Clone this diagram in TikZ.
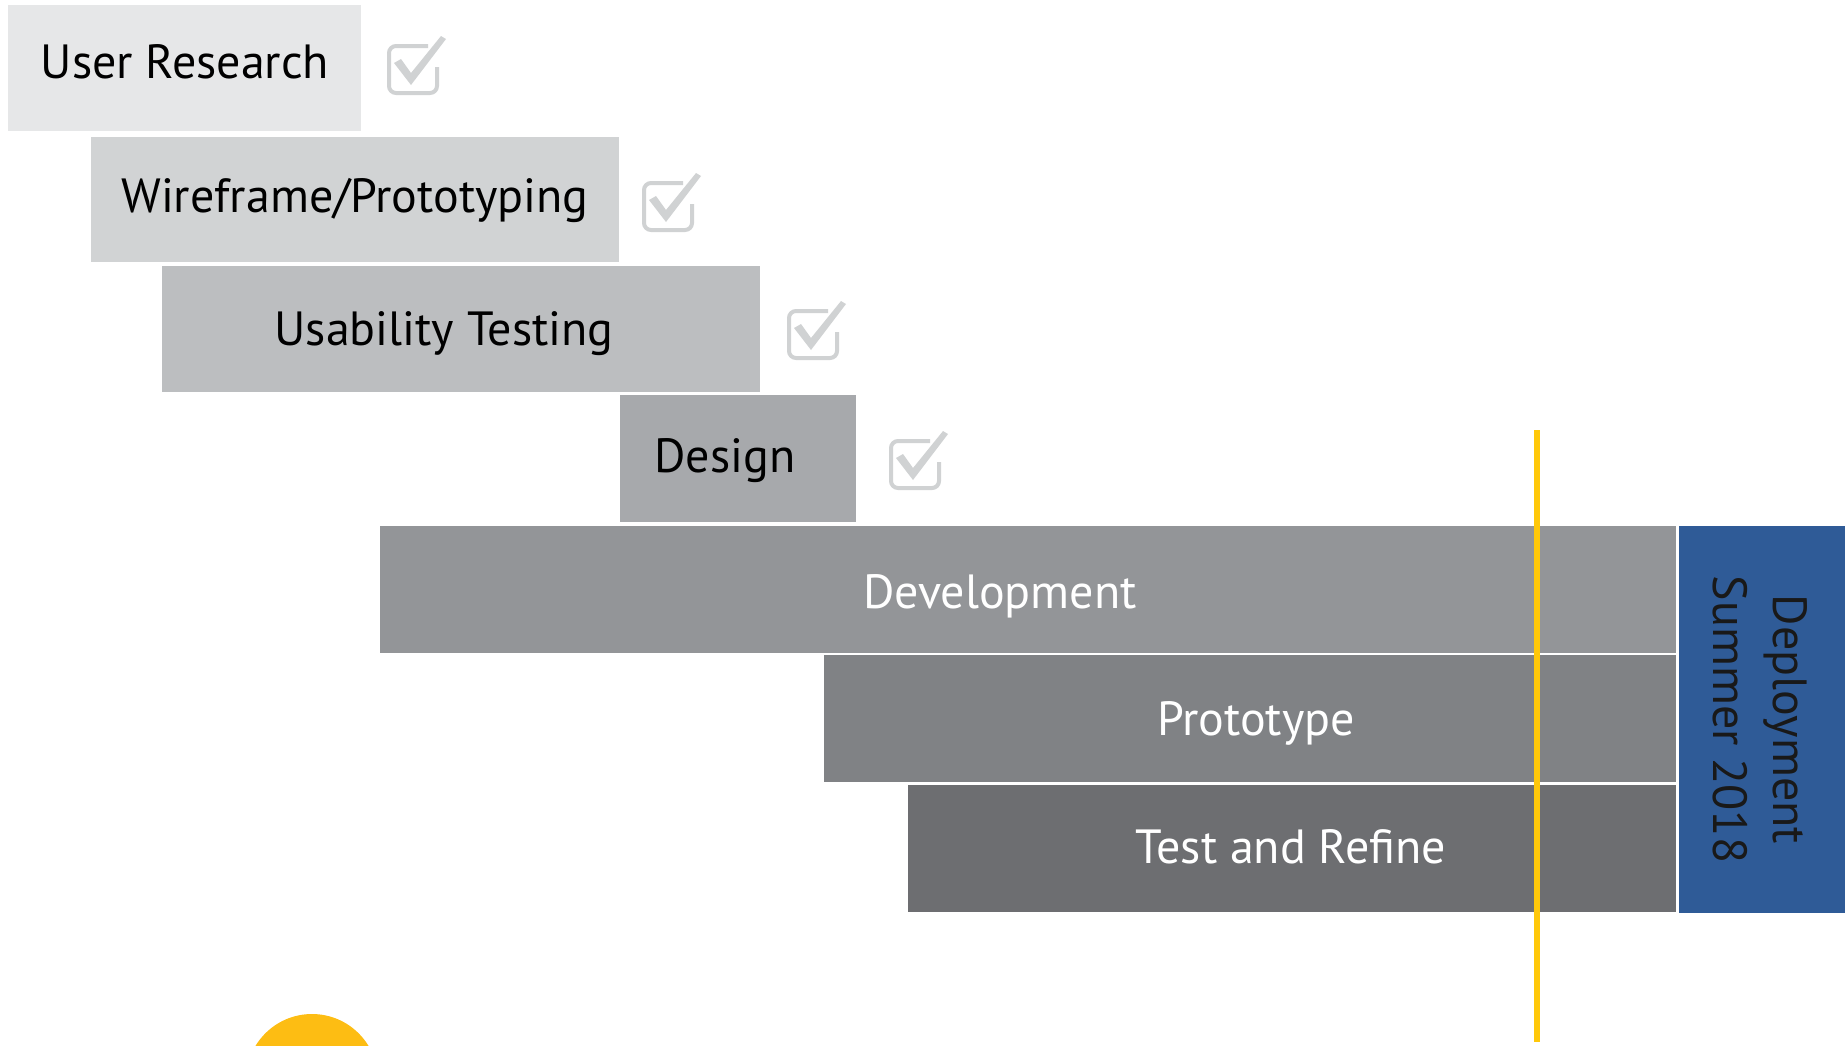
\documentclass[tikz,border=0pt]{standalone}
\usepackage{fontspec}
\setmainfont{PT Sans}
\definecolor{grayA}{HTML}{E6E7E8}
\definecolor{grayB}{HTML}{D1D3D4}
\definecolor{grayC}{HTML}{BCBEC0}
\definecolor{grayD}{HTML}{A7A9AC}
\definecolor{grayE}{HTML}{939598}
\definecolor{grayF}{HTML}{808285}
\definecolor{grayG}{HTML}{6D6E71}
\definecolor{deployblue}{HTML}{2F5B97}
\definecolor{markyellow}{HTML}{FFC80A}
\definecolor{dotyellow}{HTML}{FDBD13}
\definecolor{tickgray}{HTML}{D0D2D3}
\tikzset{
    tickbox/.pic={
        \draw[tickgray, line width=2pt, rounded corners=3.5pt]
            (41,2) -- (2,2) -- (2,49) -- (50,49) -- (50,23);
        \fill[tickgray] (7,19) -- (14,15) -- (24,29) -- (54,-8) -- (59,-5) -- (24,41) -- cycle;
    }
}
\begin{document}
\begin{tikzpicture}[
    x=0.5pt, y=-0.5pt,
    bar/.style={rectangle, inner sep=0pt, outer sep=0pt},
    lbl/.style={font=\fontsize{24}{30}\selectfont, inner sep=0pt,
        text height=0.7em, text depth=0pt},
    every node/.style={}]
    \clip (0,0) rectangle (1845,1045);

    % phases
    \node[bar, fill=grayA, minimum width=176.5pt, minimum height=63pt] (research) at (184.5,68) {};
    \node[bar, fill=grayB, minimum width=264pt, minimum height=62.5pt] (wireframe) at (355,199.5) {};
    \node[bar, fill=grayC, minimum width=299pt, minimum height=63pt] (usability) at (461,329) {};
    \node[bar, fill=grayD, minimum width=118pt, minimum height=63.5pt] (design) at (738,458.5) {};
    \node[bar, fill=grayE, minimum width=648pt, minimum height=63.5pt] (develop) at (1028,589.5) {};
    \node[bar, fill=grayF, minimum width=426pt, minimum height=63.5pt] (prototype) at (1250,718.5) {};
    \node[bar, fill=grayG, minimum width=384pt, minimum height=63.5pt] (refine) at (1292,848.5) {};
    \node[bar, fill=deployblue, minimum width=83pt, minimum height=193.5pt] (deploy) at (1762,719.5) {};

    % labels
    \node[lbl] (researchtxt) at (185,71) {User Research};
    \node[lbl] (wireframetxt) at (355,205.5) {Wireframe/Prototyping};
    \node[lbl] (usabilitytxt) at (444,338) {Usability Testing};
    \node[lbl] (designtxt) at (725,465.5) {Design};
    \node[lbl, white] (developtxt) at (1000,601.5) {Development};
    \node[lbl, white] (prototypetxt) at (1256,728.5) {Prototype};
    \node[lbl, white] (refinetxt) at (1291,856.5) {Test and Refine};
    \node[font=\fontsize{24}{30}\selectfont, inner sep=0pt, rotate=-90, align=center,
        black!90] (deploytxt) at (1760,719.5) {Deployment\\Summer 2018};

    % done marks
    \pic at (387,44) {tickbox};
    \pic at (642,181) {tickbox};
    \pic at (787,309) {tickbox};
    \pic at (889,439) {tickbox};

    % today
    \coordinate (todaytop) at (1537,430);
    \coordinate (todaybot) at (1537,1042);
    \draw[markyellow, line width=3pt] (todaytop) -- (todaybot);
    \fill[dotyellow] (312,1080) circle[radius=33pt];
\end{tikzpicture}
\end{document}
